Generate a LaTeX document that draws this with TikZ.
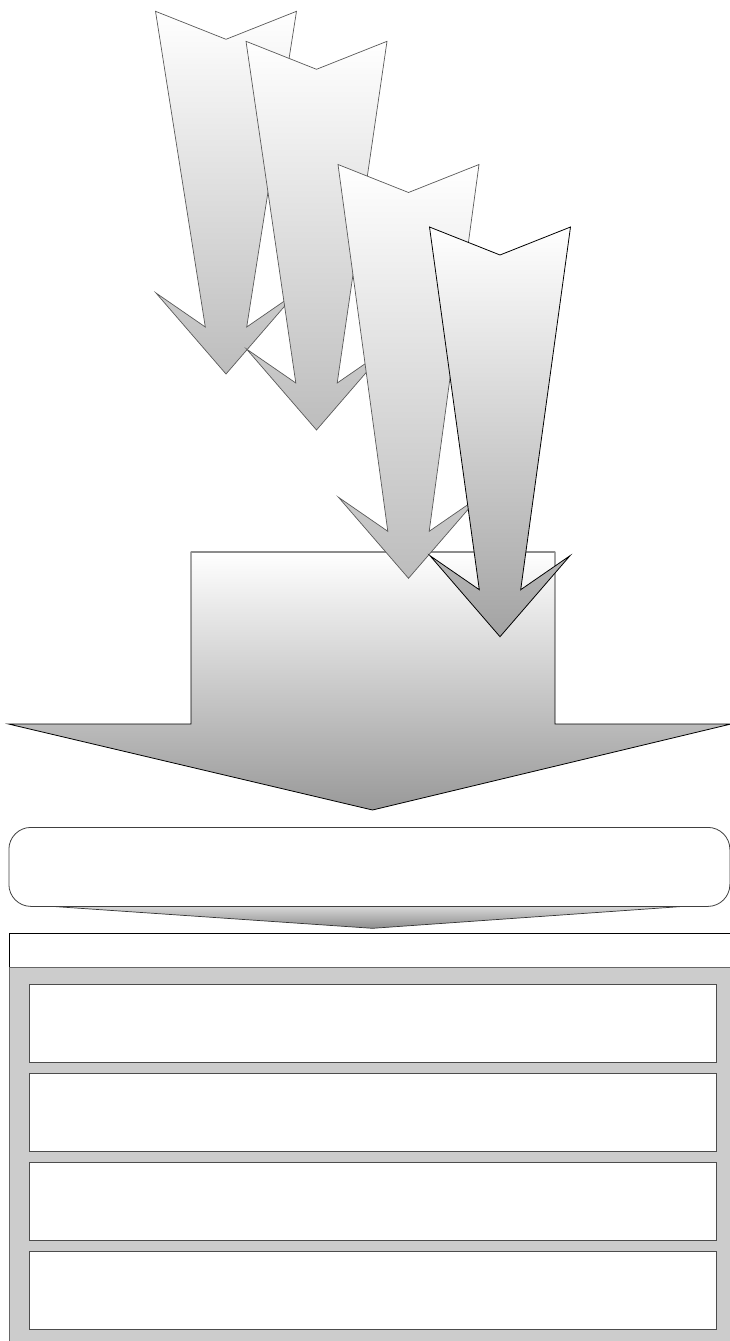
\documentclass[tikz,border=0pt]{standalone}
\usetikzlibrary{calc}
\tikzset{
  arrowbody/.style={top color=white, bottom color=black!26, draw=black!65, line width=0.7pt, line join=miter},
  arrowdark/.style={top color=white, bottom color=black!36, draw=black, line width=0.8pt, line join=miter},
  bigbody/.style={top color=white, bottom color=black!40, draw=black, line width=0.8pt},
  roundbox/.style={draw=black!75, fill=white, line width=0.8pt, rounded corners=22pt, inner sep=0pt},
  headbox/.style={draw=black, fill=white, line width=1.1pt, inner sep=0pt},
  panel/.style={draw=black!60, fill=black!20, line width=1pt, inner sep=0pt},
  itembox/.style={draw=black!70, fill=white, line width=0.9pt, inner sep=0pt, minimum width=686.7pt, minimum height=78pt}
}
\newcommand\fatdownarrow[4]{%
  \path[#4] (#1-70.5,#2) -- (#1,#2+28) -- (#1+70.5,#2) -- (#1+20.7,#3-47) -- (#1+70,#3-81) -- (#1,#3) -- (#1-70,#3-81) -- (#1-20.7,#3-47) -- cycle;}
\begin{document}
\begin{tikzpicture}[x=1pt,y=-1pt]
\useasboundingbox (0,0) rectangle (730,1341);
% big arrow
\path[bigbody] (191,552) -- (555,552) -- (555,724) -- (731,724) -- (372.5,810) -- (8.5,724) -- (191,724) -- cycle;
\draw[black!45, line width=1.3pt] (191,552) -- (555,552);
% small arrows
\fatdownarrow{226}{11.3}{374}{arrowbody}
\fatdownarrow{316.5}{41.3}{430}{arrowbody}
\fatdownarrow{408.5}{164.5}{578.3}{arrowbody}
\fatdownarrow{500}{227}{636.7}{arrowdark}
% rounded box and pointer
\path[top color=black!15, bottom color=black!45, draw=black!80, line width=0.7pt] (46.5,906) -- (689,906) -- (372.5,928.3) -- cycle;
\node[roundbox, minimum width=721pt, minimum height=79pt, anchor=north west] (summary) at (8.5,827) {};
% header and panel
\node[headbox, minimum width=723pt, minimum height=33.4pt, anchor=north west] (header) at (8.5,933.3) {};
\node[panel, minimum width=723pt, minimum height=376pt, anchor=north west] (panel) at (8.5,966.7) {};
\node[itembox, anchor=north west] (item1) at (29.3,984) {};
\node[itembox, anchor=north west] (item2) at (29.3,1073) {};
\node[itembox, anchor=north west] (item3) at (29.3,1162) {};
\node[itembox, anchor=north west] (item4) at (29.3,1250.7) {};
\end{tikzpicture}
\end{document}
